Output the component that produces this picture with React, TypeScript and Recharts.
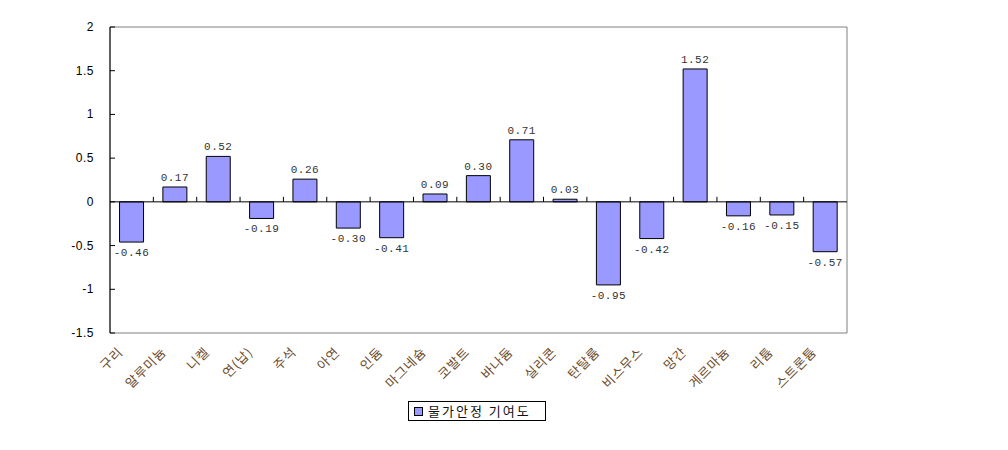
import React from 'react';
import {
  BarChart,
  Bar,
  XAxis,
  YAxis,
  ReferenceLine,
  ReferenceArea,
  LabelList,
} from 'recharts';

// 광물별 물가안정 기여도
const categories = [
  '구리', '알루미늄', '니켈', '연(납)', '주석', '아연', '인듐', '마그네슘', '코발트',
  '바나듐', '실리콘', '탄탈륨', '비스무스', '망간', '게르마늄', '리튬', '스트론튬',
];
const contributions = [
  -0.46, 0.17, 0.52, -0.19, 0.26, -0.3, -0.41, 0.09, 0.3,
  0.71, 0.03, -0.95, -0.42, 1.52, -0.16, -0.15, -0.57,
];
const yTicks = [-1.5, -1, -0.5, 0, 0.5, 1, 1.5, 2];
const seriesName = '물가안정 기여도';

const data = categories.map((name, i) => ({ name, value: contributions[i] }));

const korFont = '"Noto Sans CJK KR", "Noto Sans", sans-serif';
const numFont = '"Liberation Mono", "DejaVu Sans Mono", monospace';

const YTick = (props: any) => {
  const { x, y, payload } = props;
  return (
    <g>
      <line x1={x} x2={x + 5} y1={y} y2={y} stroke="#000" />
      <text
        x={x - 16}
        y={y + 4}
        textAnchor="end"
        fontSize={12}
        fontFamily='"Liberation Sans", Arial, sans-serif'
        letterSpacing={0.5}
        fill="#000"
      >
        {payload.value}
      </text>
    </g>
  );
};

const XTick = (props: any) => {
  const { x, y, payload } = props;
  const tx = x - 8;
  const ty = y + 20;
  return (
    <text
      x={tx}
      y={ty}
      textAnchor="end"
      transform={`rotate(-45 ${tx} ${ty})`}
      fontSize={13}
      fontFamily={korFont}
      letterSpacing={0.8}
      fill="#6b4a2a"
    >
      {payload.value}
    </text>
  );
};

// 0 기준선 + 항목 경계 눈금
const ZeroAxis = (props: any) => {
  const { x1, x2, y1 } = props;
  if (x1 == null) return null;
  const n = categories.length;
  const step = (x2 - x1) / n;
  return (
    <g>
      <line x1={x1} x2={x2} y1={y1} y2={y1} stroke="#000" />
      {categories.slice(1).map((c, i) => (
        <line
          key={c}
          x1={x1 + step * (i + 1)}
          x2={x1 + step * (i + 1)}
          y1={y1 - 5}
          y2={y1}
          stroke="#000"
        />
      ))}
    </g>
  );
};

const ValueLabel = (props: any) => {
  const { x, y, width, height, value } = props;
  const top = Math.min(y, y + height);
  const bottom = Math.max(y, y + height);
  const ly = value >= 0 ? top - 6 : bottom + 14;
  return (
    <text
      x={x + width / 2}
      y={ly}
      textAnchor="middle"
      fontSize={11}
      fontFamily={numFont}
      letterSpacing={0.5}
      fill="#333"
    >
      {value < 0 ? '-' + Math.abs(value).toFixed(2) : value.toFixed(2)}
    </text>
  );
};

export default function App() {
  return (
    <div style={{ position: 'absolute', left: 0, top: 0, width: 1008, height: 450, background: '#fff' }}>
      <BarChart
        width={1008}
        height={450}
        data={data}
        margin={{ top: 27, right: 161, bottom: 0, left: 0 }}
        barCategoryGap="22%"
      >
        <ReferenceArea y1={-1.5} y2={2} stroke="#808080" fill="none" fillOpacity={0} />
        <XAxis
          dataKey="name"
          height={117}
          interval={0}
          axisLine={false}
          tickLine={false}
          tickSize={0}
          tickMargin={0}
          tick={<XTick />}
        />
        <YAxis
          width={110}
          domain={[-1.5, 2]}
          ticks={yTicks}
          interval={0}
          axisLine={{ stroke: '#000' }}
          tickLine={false}
          tickSize={0}
          tickMargin={0}
          tick={<YTick />}
        />
        <Bar dataKey="value" name={seriesName} fill="#9999FF" stroke="#000" strokeWidth={1} isAnimationActive={false}>
          <LabelList dataKey="value" content={<ValueLabel />} />
        </Bar>
        <ReferenceLine y={0} shape={<ZeroAxis />} />
      </BarChart>
      <div
        style={{
          position: 'absolute',
          left: 408,
          top: 401,
          width: 136,
          height: 18,
          border: '1px solid #000',
          display: 'flex',
          alignItems: 'center',
          fontFamily: korFont,
          fontSize: 13,
          letterSpacing: 2,
          color: '#111',
          boxSizing: 'content-box',
        }}
      >
        <span
          style={{
            display: 'inline-block',
            width: 7,
            height: 7,
            background: '#9999FF',
            border: '1px solid #000',
            marginLeft: 5,
            marginRight: 5,
          }}
        />
        <span style={{ lineHeight: '18px' }}>{seriesName}</span>
      </div>
    </div>
  );
}
